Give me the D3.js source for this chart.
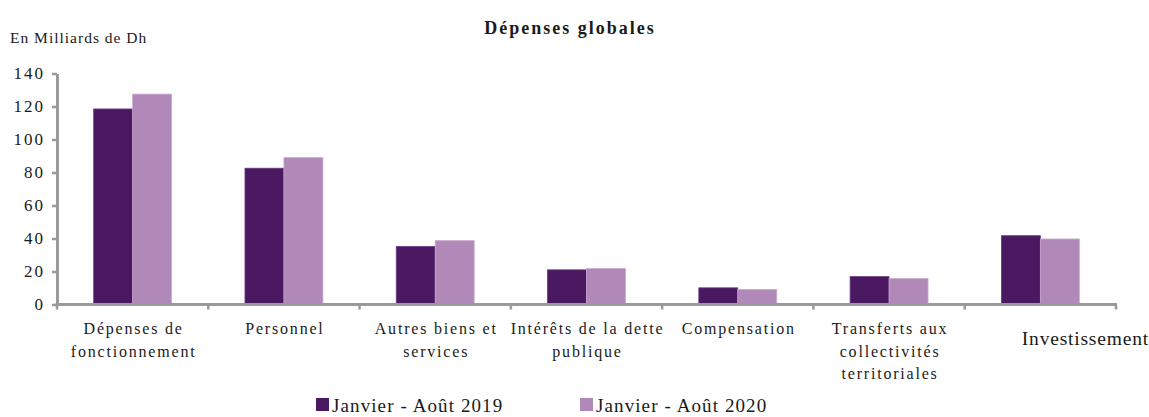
<!DOCTYPE html>
<html>
<head>
<meta charset="utf-8">
<script src="https://cdn.jsdelivr.net/npm/d3@7"></script>
<style>
body { margin: 0; background: #fff; }
svg text { font-family: "Liberation Serif", "DejaVu Serif", serif; fill: #1a1a1a; }
</style>
</head>
<body>
<svg id="chart" width="1149" height="417"></svg>
<script>
var categories = [
  ["Dépenses de", "fonctionnement"],
  ["Personnel"],
  ["Autres biens et", "services"],
  ["Intérêts de la dette", "publique"],
  ["Compensation"],
  ["Transferts aux", "collectivités", "territoriales"],
  ["Investissement"]
];
var series = ["Janvier - Août 2019", "Janvier - Août 2020"];
var values2019 = [118.5, 82.6, 35.2, 21.0, 10.1, 16.9, 41.7];
var values2020 = [127.5, 89.0, 38.7, 21.8, 9.1, 15.7, 39.7];
var yTicks = [0, 20, 40, 60, 80, 100, 120, 140];
var colors = ["#4a1961", "#b189b9"];
var strokes = ["#6a3a80", "#c9a8cf"];

var svg = d3.select("#chart");
var plotLeft = 57, plotRight = 1116, plotTop = 73.5, plotBottom = 304.5;

var x0 = d3.scaleBand()
  .domain(d3.range(categories.length))
  .range([plotLeft, plotRight])
  .paddingInner(0.485)
  .paddingOuter(0.2425);
var x1 = d3.scaleBand()
  .domain([0, 1])
  .range([0, x0.bandwidth()]);
var y = d3.scaleLinear().domain([0, 140]).range([plotBottom, plotTop]);

// bars
var data = [values2019, values2020];
var groups = svg.append("g").selectAll("g")
  .data(categories)
  .enter().append("g")
  .attr("transform", function(d, i) { return "translate(" + x0(i) + ",0)"; });
groups.selectAll("rect")
  .data(function(d, i) { return [0, 1].map(function(s) { return {s: s, v: data[s][i]}; }); })
  .enter().append("rect")
  .attr("x", function(d) { return x1(d.s); })
  .attr("width", x1.bandwidth())
  .attr("y", function(d) { return y(d.v); })
  .attr("height", function(d) { return y(0) - y(d.v); })
  .attr("fill", function(d) { return colors[d.s]; })
  .attr("stroke", function(d) { return strokes[d.s]; })
  .attr("stroke-width", 0.8);

// y axis
var yAxis = svg.append("g")
  .attr("transform", "translate(" + plotLeft + ",0)")
  .call(d3.axisLeft(y).tickValues(yTicks).tickSize(5).tickSizeOuter(0));
yAxis.select(".domain").attr("stroke", "#9a9a9a").attr("stroke-width", 3);
yAxis.selectAll(".tick line").attr("stroke", "#9a9a9a").attr("stroke-width", 2.5);
yAxis.selectAll(".tick text")
  .attr("x", -12)
  .style("font-size", "17px")
  .style("letter-spacing", "2px")
  .attr("fill", "#1a1a1a");

// x axis
var xTickPos = d3.range(categories.length + 1).map(function(i) { return plotLeft + i * x0.step(); });
var xAxis = svg.append("g");
xAxis.append("line")
  .attr("x1", plotLeft - 1.5).attr("x2", plotRight + 1)
  .attr("y1", y(0)).attr("y2", y(0))
  .attr("stroke", "#9a9a9a").attr("stroke-width", 3);
xAxis.selectAll("line.tk")
  .data(xTickPos)
  .enter().append("line")
  .attr("class", "tk")
  .attr("x1", function(d) { return d; }).attr("x2", function(d) { return d; })
  .attr("y1", y(0)).attr("y2", y(0) + 5)
  .attr("stroke", "#9a9a9a").attr("stroke-width", 2.5);

// category labels
var labels = svg.append("g").selectAll("text")
  .data(categories)
  .enter().append("text")
  .attr("text-anchor", "middle")
  .style("font-size", function(d, i) { return i === 6 ? "19.5px" : "16px"; })
  .style("letter-spacing", function(d, i) { return i === 6 ? "0.8px" : "1.8px"; })
  .attr("transform", function(d, i) {
    var cx = x0(i) + x0.bandwidth() / 2;
    if (i === 6) return "translate(" + (cx + 45) + ",345)";
    return "translate(" + (cx + 1) + ",334)";
  });
labels.selectAll("tspan")
  .data(function(d) { return d; })
  .enter().append("tspan")
  .attr("x", 0)
  .attr("dy", function(d, j) { return j === 0 ? 0 : 22.5; })
  .text(function(d) { return d; });

// title and unit
svg.append("text")
  .attr("x", 570).attr("y", 34)
  .attr("text-anchor", "middle")
  .style("font-size", "18px")
  .style("letter-spacing", "2px")
  .style("font-weight", "bold")
  .text("Dépenses globales");
svg.append("text")
  .attr("x", 10).attr("y", 43)
  .style("font-size", "15.5px")
  .style("letter-spacing", "1px")
  .text("En Milliards de Dh");

// legend
var legendX = [316, 580];
var legend = svg.append("g").selectAll("g")
  .data(series)
  .enter().append("g")
  .attr("transform", function(d, i) { return "translate(" + legendX[i] + ",398)"; });
legend.append("rect")
  .attr("width", 13).attr("height", 13)
  .attr("fill", function(d, i) { return colors[i]; });
legend.append("text")
  .attr("x", 16).attr("y", 14)
  .style("font-size", "19px")
  .style("letter-spacing", "1.1px")
  .text(function(d) { return d; });
</script>
</body>
</html>
